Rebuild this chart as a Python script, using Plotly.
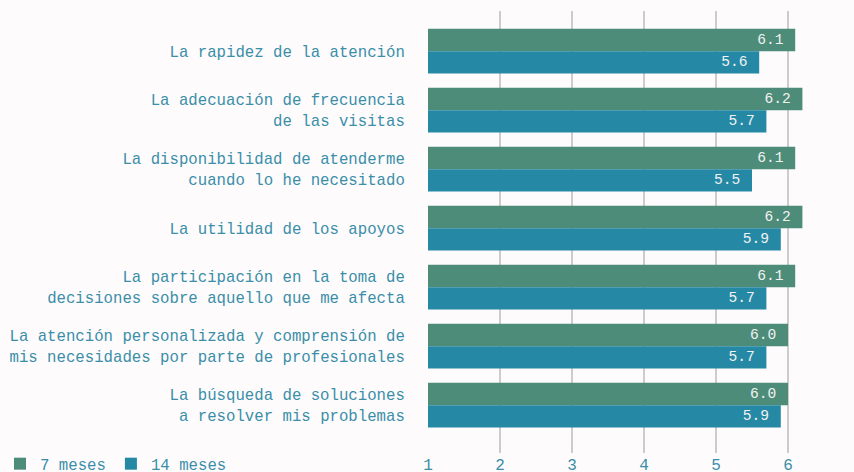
import plotly.graph_objects as go

categories = [
    "La rapidez de la atención",
    "La adecuación de frecuencia<br>de las visitas",
    "La disponibilidad de atenderme<br>cuando lo he necesitado",
    "La utilidad de los apoyos",
    "La participación en la toma de<br>decisiones sobre aquello que me afecta",
    "La atención personalizada y comprensión de<br>mis necesidades por parte de profesionales",
    "La búsqueda de soluciones<br>a resolver mis problemas",
]
series_names = ["7 meses", "14 meses"]
values_7 = [6.1, 6.2, 6.1, 6.2, 6.1, 6.0, 6.0]
values_14 = [5.6, 5.7, 5.5, 5.9, 5.7, 5.7, 5.9]
x_ticks = [1, 2, 3, 4, 5, 6]

FONT = "Liberation Mono, DejaVu Sans Mono, monospace"
TEXT_COLOR = "#3a8ea8"
colors = ["#4e8c7a", "#2589a6"]

fig = go.Figure()
for name, vals, col in zip(series_names, [values_7, values_14], colors):
    fig.add_trace(go.Bar(
        y=categories, x=vals, name=name, orientation="h",
        marker=dict(color=col, line=dict(width=0)),
        texttemplate="%{x:.1f}\u00a0", textposition="inside",
        insidetextanchor="end",
        textfont=dict(family=FONT, size=16, color="#f2f2f2"),
        cliponaxis=False,
    ))

fig.update_layout(
    width=854, height=472,
    barmode="group", bargap=0.24, bargroupgap=0,
    paper_bgcolor="#fdfbfc", plot_bgcolor="#fdfbfc",
    margin=dict(l=428, r=30, t=11, b=19, autoexpand=False),
    font=dict(family=FONT, size=15.7, color=TEXT_COLOR),
    showlegend=True,
    legend=dict(
        orientation="h", xref="container", yref="container",
        x=-0.006, y=0.017, xanchor="left", yanchor="middle",
        traceorder="normal", font=dict(size=15.7, color=TEXT_COLOR),
        bgcolor="rgba(0,0,0,0)", itemwidth=30,
    ),
    xaxis=dict(
        range=[1, 6.5], tickvals=x_ticks, showgrid=True,
        gridcolor="#cccccc", gridwidth=2, zeroline=False,
        showline=False, tickfont=dict(size=16, color=TEXT_COLOR),
        ticks="", fixedrange=True, automargin=False,
    ),
    yaxis=dict(
        categoryorder="array", categoryarray=categories,
        range=[6.81, -0.68], showgrid=False, zeroline=False,
        ticks="outside", ticklen=19, tickcolor="rgba(0,0,0,0)",
        tickfont=dict(size=15.7, color=TEXT_COLOR), automargin=False,
        fixedrange=True,
    ),
)

fig.write_html(
    "out.html",
    config={"displayModeBar": False},
    post_script="document.body.style.margin='0';document.body.style.background='#fdfbfc';",
)
